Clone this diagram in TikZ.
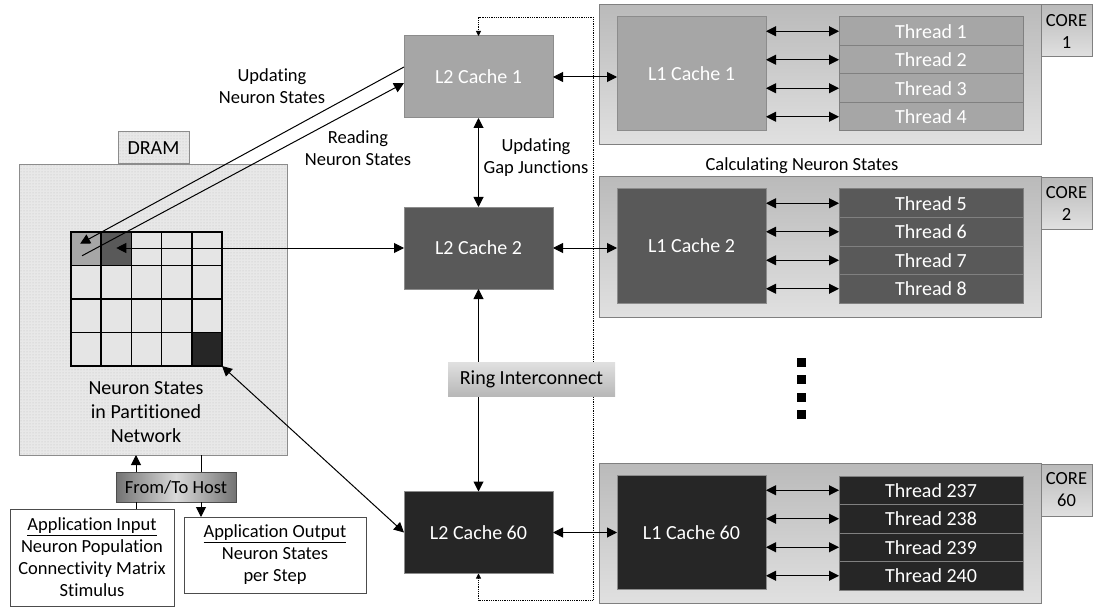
\documentclass[tikz,border=0pt]{standalone}
\usepackage{fontspec}
\setmainfont{Carlito}[Ligatures=NoCommon]
\usetikzlibrary{arrows.meta,patterns}
\colorlet{level one color}{black!35}
\colorlet{level two color}{black!65}
\colorlet{level sixty color}{black!85}
\colorlet{cell color}{black!10}
\colorlet{box border color}{black!45}
\tikzset{
    x={1pt},
    y={-1pt},
    big font/.style={font={\fontsize{20}{24}\selectfont}},
    label font/.style={font={\fontsize{18.5}{22}\selectfont}},
    link/.style={
        draw=black,
        line width={1pt},
    },
    one way/.style={
        link,
        -{Triangle[length=10pt,width=10pt]},
    },
    two way/.style={
        link,
        {Triangle[length=10pt,width=10pt]}-{Triangle[length=10pt,width=10pt]},
    },
    ring loop/.style={
        draw=black, densely dotted,
        line width={0.8pt},
        {Triangle[length=5pt,width=5pt]}-{Triangle[length=5pt,width=5pt]},
    },
    block/.style={
        draw={box border color}, line width={1pt},
        rectangle, align=center, big font,
        outer sep=0pt, inner sep=0pt,
    },
    l2 cache/.style={
        block, fill={#1}, text=white,
        minimum width={149},
        minimum height={82},
    },
    l1 cache/.style={
        block, fill={#1}, text=white,
        minimum width={149},
        minimum height={114},
    },
    thread/.style={
        block, fill={#1}, text=white,
        draw=black!50,
        minimum width={184},
        minimum height={28.5},
    },
    core/.style={
        block, draw=black!50,
        top color=black!27, bottom color=black!12,
        minimum width={442},
        minimum height={140},
    },
    core tag/.style={
        block, draw=black!50, label font,
        top color=black!27, bottom color=black!12,
        minimum width={51},
        minimum height={52},
    },
    dram/.style={
        block, pattern=dots, pattern color=black!25,
        preaction={fill=black!9},
    },
    cell/.style={
        draw=black, line width={1.5pt}, fill={cell color},
        inner sep=0pt, outer sep=0pt,
        minimum width={30.2},
        minimum height={33.5},
    },
    cell 11/.style={fill={level one color}},
    cell 12/.style={fill={level two color}},
    cell 45/.style={fill={level sixty color}},
    io box/.style={
        block, draw=black!70, fill=white, label font,
    },
    host/.style={
        block, draw=black!70, label font,
        left color=black!55, right color=black!55, middle color=black!15,
        minimum width={120},
        minimum height={30},
    },
    ring/.style={
        block, draw=none,
        top color=black!12, bottom color=black!28,
        minimum width={167},
        minimum height={34},
    },
    note/.style={
        align=center, label font, inner sep=0pt,
    },
    more dot/.style={
        fill=black, inner sep=0pt, minimum size={9},
    },
}

\begin{document}
\begin{tikzpicture}
\useasboundingbox (0,0) rectangle (1093,607);
% dram
\node[dram, minimum width={268}, minimum height={290}] (dram) at (153,310) {};
\node[dram] (dram tag) at (153.5,148) [minimum width={71}, minimum height={32}] {DRAM};
\foreach \r in {1,...,4}
    \foreach \c in {1,...,5}
        \node[cell, cell \r\c/.try] (cell \r\c) at ({71+30.2*(\c-0.5)},{232+33.5*(\r-0.5)}) {};
\node[note, big font] (network label) at (146,412) {Neuron States\\in Partitioned\\Network};
% host
\node[host] (host) at (176,487) {From/To Host};
\node[io box, minimum width={164}, minimum height={97}] (app input) at (92,557.5) {\underline{Application Input}\\Neuron Population\\Connectivity Matrix\\Stimulus};
\node[io box, minimum width={182}, minimum height={76}] (app output) at (275,555) {\underline{Application Output}\\Neuron States\\per Step};
% l2 caches
\node[l2 cache={level one color}] (l2 cache 1) at (478.5,77) {L2 Cache 1};
\node[l2 cache={level two color}] (l2 cache 2) at (478.5,248) {L2 Cache 2};
\node[l2 cache={level sixty color}] (l2 cache 60) at (478.5,532.5) {L2 Cache 60};
% cores
\node[core] (core 1) at (820,75) {};
\node[core tag] (core tag 1) at (1066.5,31) {CORE\\1};
\node[l1 cache={level one color}] (l1 cache 1) at (691.5,74) {L1 Cache 1};
\foreach \t [count=\i] in {1,...,4}
    \node[thread={level one color}] (thread \t) at (931,{17+28.5*(\i-0.5)}) {Thread \t};
\node[core] (core 2) at (820,247) {};
\node[core tag] (core tag 2) at (1066.5,203.5) {CORE\\2};
\node[l1 cache={level two color}] (l1 cache 2) at (691.5,246) {L1 Cache 2};
\foreach \t [count=\i] in {5,...,8}
    \node[thread={level two color}] (thread \t) at (931,{189+28.5*(\i-0.5)}) {Thread \t};
\node[core] (core 60) at (820,533.5) {};
\node[core tag] (core tag 60) at (1066.5,490) {CORE\\60};
\node[l1 cache={level sixty color}] (l1 cache 60) at (691.5,532.5) {L1 Cache 60};
\foreach \t [count=\i] in {237,...,240}
    \node[thread={level sixty color}] (thread \t) at (931,{476+28.5*(\i-0.5)}) {Thread \t};
\foreach \y [count=\i] in {362,379.5,397,414.5}
    \node[more dot] (more \i) at (801.5,\y) {};
% labels
\node[note] (updating label) at (272,86) {Updating\\Neuron States};
\node[note] (reading label) at (358,148) {Reading\\Neuron States};
\node[note] (gap label) at (536,158) {Updating\\Gap Junctions};
\node[note] (calc label) at (802,166) {Calculating Neuron States};
% links
\draw[one way] ([xshift=-40]host.north) -- ([xshift=-40]host.north |- dram.south);
\draw[link] ([xshift=25]host.north |- dram.south) -- ([xshift=25]host.north);
\draw[one way] ([xshift=25]host.south) -- ([xshift=25]host.south |- app output.north);
\draw[link] ([xshift=-40]host.south) -- ([xshift=-40]host.south |- app input.north);
\draw[one way] ([yshift=10]l2 cache 1.west) -- ([xshift=-6,yshift=5]cell 11.center);
\draw[one way] ([xshift=-4,yshift=-7]cell 11.center) -- ([yshift=-6]l2 cache 1.west);
\draw[two way] (l2 cache 2.west) -- (l2 cache 2.west -| cell 12.center);
\draw[two way] (l2 cache 60.west) -- (cell 45.south east);
\draw[two way] (l2 cache 1.south) -- (l2 cache 2.north);
\draw[two way] (l2 cache 2.south) -- (l2 cache 60.north);
\draw[two way] (l2 cache 1.east) -- (l2 cache 1.east -| l1 cache 1.west);
\draw[two way] (l2 cache 2.east) -- (l2 cache 2.east -| l1 cache 2.west);
\draw[two way] (l2 cache 60.east) -- (l2 cache 60.east -| l1 cache 60.west);
\foreach \t in {1,...,8,237,238,239,240}
    \draw[two way] (thread \t.west) ++(-73,0) -- (thread \t.west);
% ring
\coordinate (loop top) at (593,17);
\coordinate (loop bottom) at (593,600);
\draw[ring loop] (l2 cache 60.south) -- (l2 cache 60.south |- loop bottom) -- (loop bottom) -- (loop top) -- (l2 cache 1.north |- loop top) -- (l2 cache 1.north);
\node[ring] (ring) at (531.5,379) {Ring Interconnect};
\end{tikzpicture}
\end{document}
